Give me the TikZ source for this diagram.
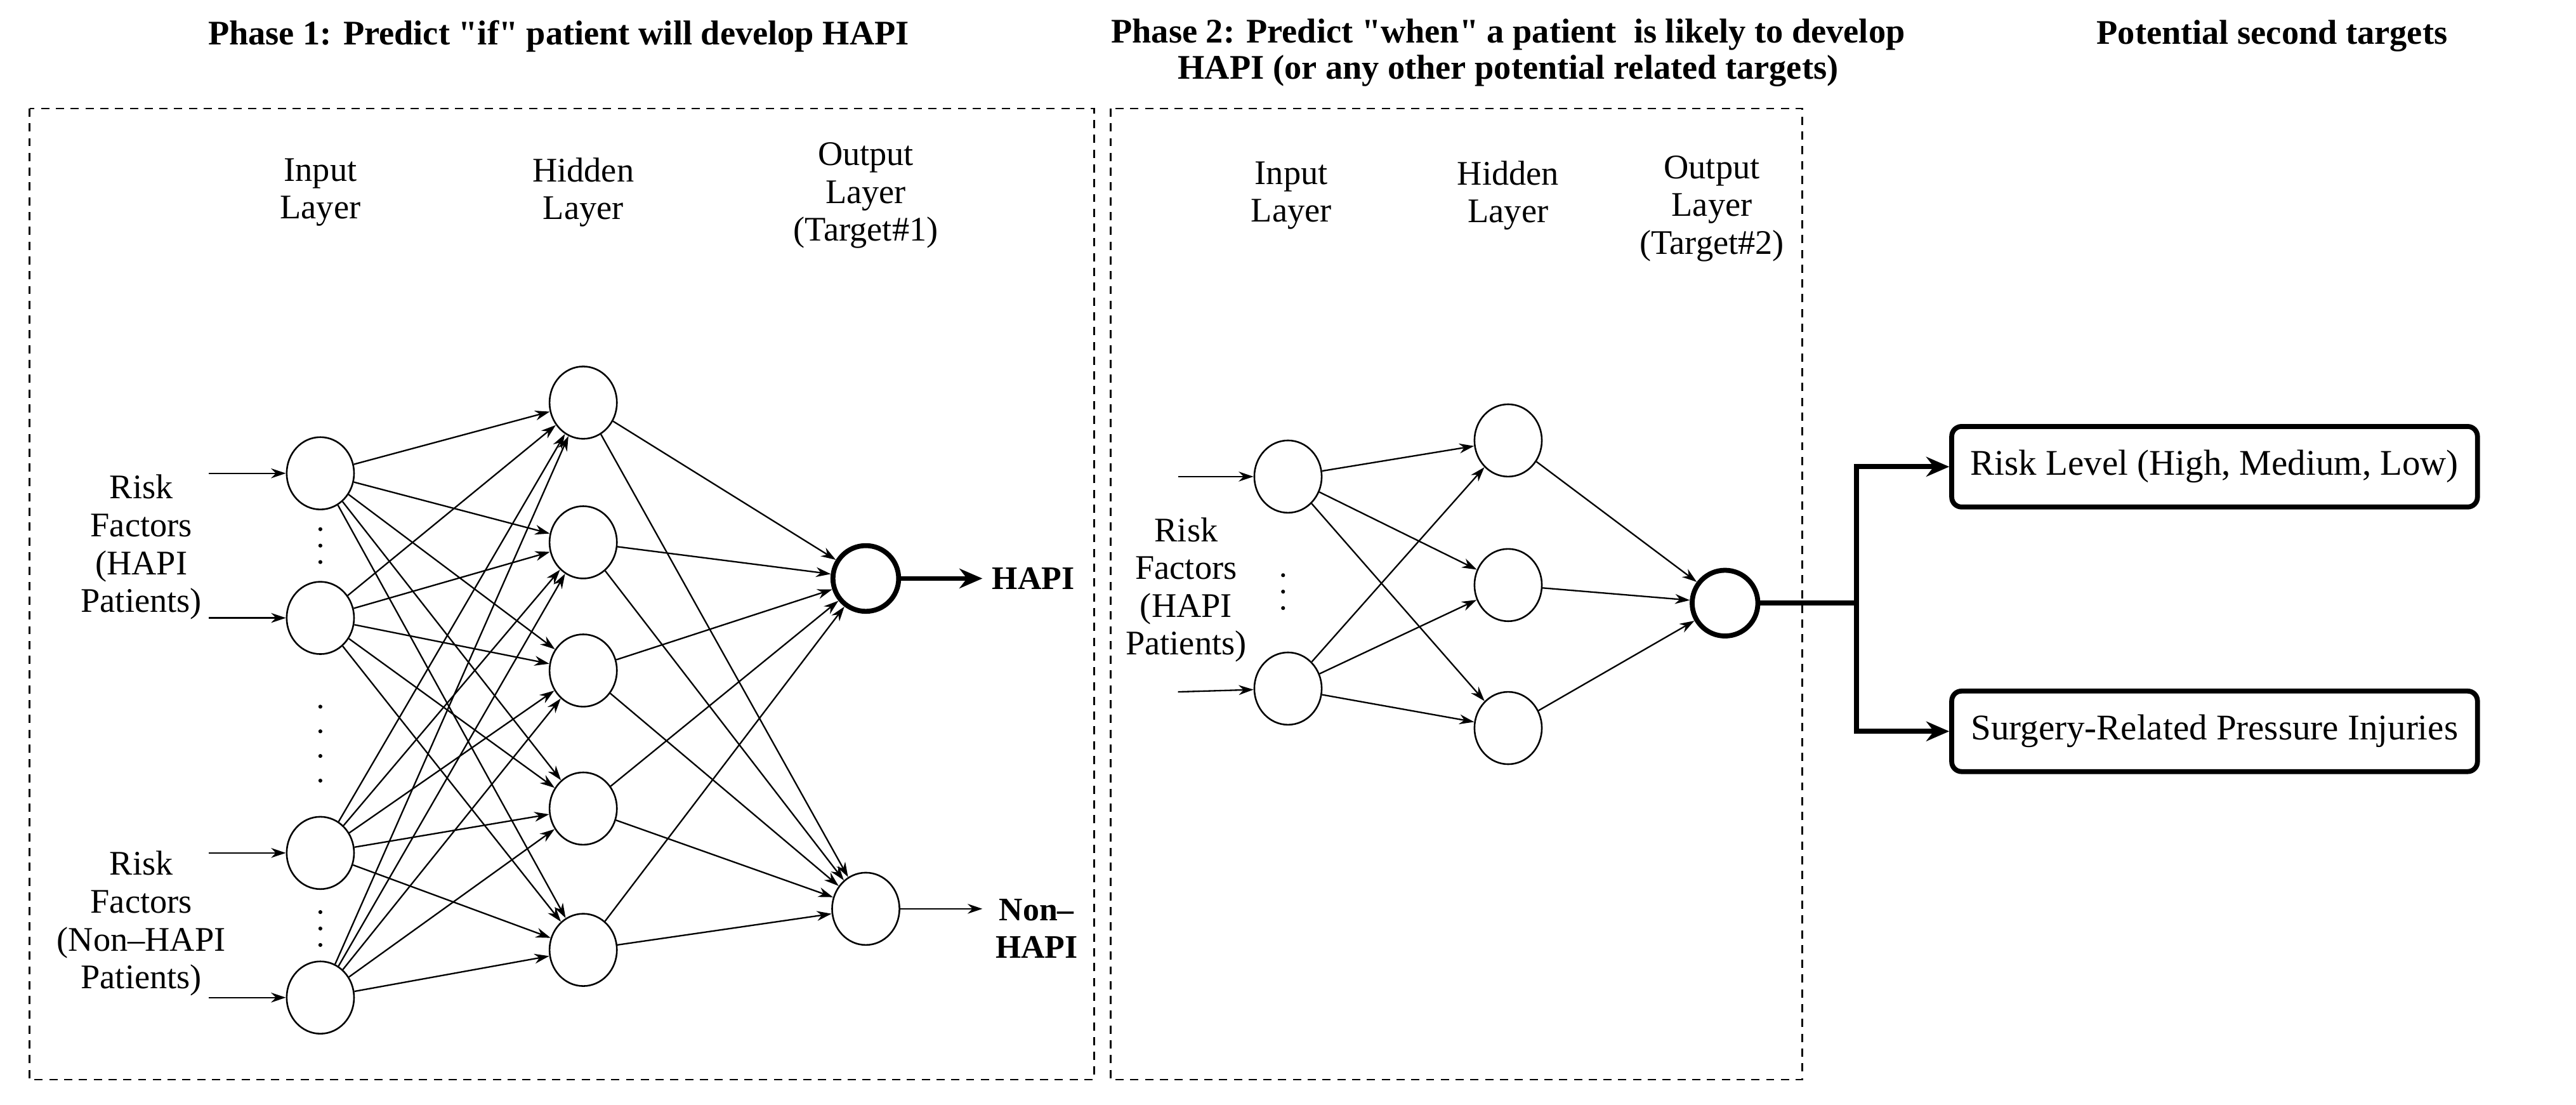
\documentclass[tikz,border=0pt]{standalone}
\usepackage{fontspec}
\setmainfont{Liberation Serif}
\usetikzlibrary{arrows.meta,shapes.geometric}
\begin{document}
\begin{tikzpicture}[x=1pt,y=-1pt,
  neuron/.style={draw,line width=1pt,ellipse,minimum width=41pt,minimum height=44pt,inner sep=0},
  neuronb/.style={draw,line width=3pt,circle,minimum size=40pt,inner sep=0},
  lbl/.style={align=center,font=\fontsize{21}{23}\selectfont},
  ttl/.style={align=center,font=\fontsize{21}{22}\selectfont\bfseries},
  conn/.style={line width=0.9pt,-{Stealth[length=9pt,width=6pt]}},
  thick arr/.style={line width=3pt,-{Stealth[length=14pt,width=12pt]}},
  frame/.style={draw,dashed,line width=1pt,dash pattern=on 5pt off 4pt},
  target/.style={draw,line width=3pt,rounded corners=6pt,minimum width=320pt,minimum height=49pt,font=\fontsize{22}{24}\selectfont}]
\useasboundingbox (0,0) rectangle (1568,672);
% titles
\node[ttl] (t1) at (340,22) {Phase 1: Predict \textquotedbl if\textquotedbl\ patient will develop HAPI};
\node[ttl] (t2) at (918,32) {Phase 2: Predict \textquotedbl when\textquotedbl\ a patient\ \ is likely to develop\\HAPI (or any other potential related targets)};
\node[ttl] (t3) at (1383,22) {Potential second targets};
% frames
\draw[frame] (18,66) rectangle (666,657);
\draw[frame] (676,66) rectangle (1097,657);
% phase 1 labels
\node[lbl] (l1) at (195,117) {Input\\Layer};
\node[lbl] (l2) at (355,117) {Hidden\\Layer};
\node[lbl] (l3) at (527,119) {Output\\Layer\\(Target\#1)};
% phase 1 nodes
\foreach \n/\y in {1/288,2/376,3/519,4/607} \node[neuron] (i\n) at (195,\y) {};
\foreach \n/\y in {1/245,2/330,3/408,4/492,5/578} \node[neuron] (h\n) at (355,\y) {};
\node[neuronb] (o1) at (527,352) {};
\node[neuron] (o2) at (527,553) {};
\foreach \n/\y in {1/288,2/376,3/519,4/607} {
  \coordinate (s\n) at (127,\y);
  \draw[conn] (s\n) -- (i\n);
}
\foreach \a in {1,2,3,4} \foreach \b in {1,2,3,4,5} \draw[conn] (i\a) -- (h\b);
\foreach \b in {1,2,3,4,5} {\draw[conn] (h\b) -- (o1); \draw[conn] (h\b) -- (o2);}
\coordinate (e1) at (598,352);
\coordinate (e2) at (598,553);
\draw[thick arr] (o1) -- (e1);
\draw[conn] (o2) -- (e2);
\node[lbl,font=\fontsize{20}{23}\selectfont\bfseries] (hapi) at (629,352) {HAPI};
\node[lbl,font=\fontsize{20}{23}\selectfont\bfseries] (nhapi) at (631,565) {Non–\\HAPI};
\node[lbl] (rf1) at (86,333) {Risk\\Factors\\(HAPI\\Patients)};
\node[lbl] (rf2) at (86,562) {Risk\\Factors\\(Non–HAPI\\Patients)};
\foreach \y in {322,332,342} \fill (195,\y) circle (1.2pt);
\foreach \y in {430,445,460,475} \fill (195,\y) circle (1.2pt);
\foreach \y in {555,565,575} \fill (195,\y) circle (1.2pt);
% phase 2
\node[lbl] (m1) at (786,119) {Input\\Layer};
\node[lbl] (m2) at (918,119) {Hidden\\Layer};
\node[lbl] (m3) at (1042,127) {Output\\Layer\\(Target\#2)};
\node[neuron] (p1) at (784,290) {};
\node[neuron] (p2) at (784,419) {};
\node[neuron] (q1) at (918,268) {};
\node[neuron] (q2) at (918,356) {};
\node[neuron] (q3) at (918,443) {};
\node[neuronb] (r) at (1050,367) {};
\coordinate (u1) at (717,290);
\coordinate (u2) at (717,421);
\draw[conn] (u1) -- (p1);
\draw[conn] (u2) -- (p2);
\foreach \a in {1,2} \foreach \b in {1,2,3} \draw[conn] (p\a) -- (q\b);
\foreach \b in {1,2,3} \draw[conn] (q\b) -- (r);
\node[lbl] (rf3) at (722,359) {Risk\\Factors\\(HAPI\\Patients)};
\foreach \y in {350,360,370} \fill (781,\y) circle (1.2pt);
% targets
\node[target] (b1) at (1348,284) {Risk Level (High, Medium, Low)};
\node[target] (b2) at (1348,445) {Surgery-Related Pressure Injuries};
\coordinate (j) at (1130,367);
\draw[line width=3pt] (r) -- (j);
\draw[thick arr] (j) |- (b1.west);
\draw[thick arr] (j) |- (b2.west);
\end{tikzpicture}
\end{document}
